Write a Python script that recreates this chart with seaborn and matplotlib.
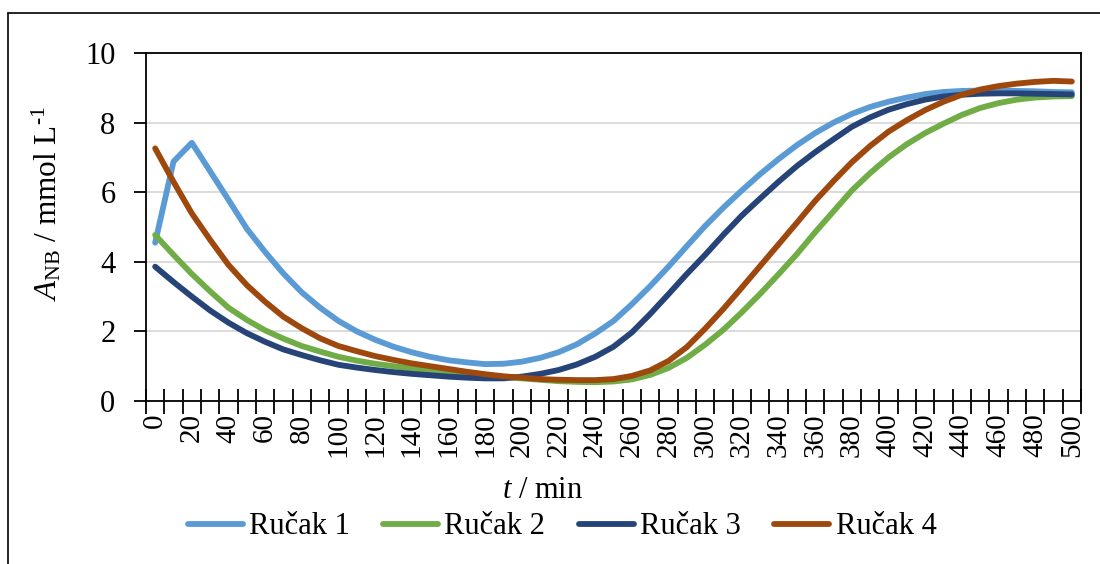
import numpy as np
import pandas as pd
import matplotlib
matplotlib.use('Agg')
import matplotlib.pyplot as plt
from matplotlib.lines import Line2D
from matplotlib.ticker import FixedLocator
import seaborn as sns

# vrijeme uzorkovanja (min)
time_min = list(range(0, 501, 10))

# A_NB / mmol L-1 za svaki ručak
rucak_1 = [4.55, 6.88, 7.42, 6.60, 5.78, 4.95, 4.28, 3.66, 3.12, 2.68,
           2.30, 2.00, 1.76, 1.56, 1.40, 1.27, 1.17, 1.11, 1.06, 1.07,
           1.13, 1.24, 1.40, 1.63, 1.94, 2.30, 2.78, 3.30, 3.86, 4.45,
           5.03, 5.56, 6.05, 6.52, 6.95, 7.35, 7.70, 8.00, 8.25, 8.45,
           8.60, 8.72, 8.82, 8.88, 8.91, 8.92, 8.92, 8.91, 8.90, 8.88,
           8.87]
rucak_2 = [4.77, 4.20, 3.65, 3.15, 2.68, 2.33, 2.03, 1.79, 1.58, 1.42,
           1.27, 1.16, 1.07, 1.00, 0.93, 0.88, 0.83, 0.79, 0.74, 0.69,
           0.65, 0.61, 0.57, 0.55, 0.54, 0.56, 0.62, 0.75, 0.95, 1.24,
           1.62, 2.05, 2.55, 3.08, 3.64, 4.22, 4.85, 5.45, 6.05, 6.55,
           7.00, 7.38, 7.70, 7.97, 8.22, 8.42, 8.56, 8.66, 8.72, 8.75,
           8.76]
rucak_3 = [3.86, 3.42, 3.00, 2.60, 2.25, 1.95, 1.70, 1.48, 1.32, 1.17,
           1.04, 0.96, 0.89, 0.83, 0.78, 0.74, 0.70, 0.67, 0.65, 0.65,
           0.70, 0.78, 0.89, 1.05, 1.27, 1.56, 1.97, 2.50, 3.07, 3.65,
           4.20, 4.78, 5.33, 5.82, 6.30, 6.75, 7.15, 7.52, 7.88, 8.15,
           8.37, 8.53, 8.66, 8.75, 8.80, 8.83, 8.84, 8.84, 8.83, 8.82,
           8.81]
rucak_4 = [7.26, 6.30, 5.39, 4.63, 3.91, 3.33, 2.85, 2.42, 2.09, 1.80,
           1.58, 1.43, 1.29, 1.18, 1.08, 1.00, 0.92, 0.84, 0.77, 0.71,
           0.67, 0.63, 0.61, 0.60, 0.60, 0.63, 0.72, 0.88, 1.15, 1.55,
           2.08, 2.65, 3.26, 3.88, 4.50, 5.12, 5.75, 6.32, 6.86, 7.33,
           7.74, 8.07, 8.36, 8.60, 8.80, 8.95, 9.05, 9.12, 9.17, 9.20,
           9.18]

series_names = ['Ručak 1', 'Ručak 2', 'Ručak 3', 'Ručak 4']
series_colors = ['#5B9BD5', '#70AD47', '#264478', '#9E480E']
y_ticks = [0, 2, 4, 6, 8, 10]
x_ticks = list(range(0, 501, 20))

sns.set_style('white')
plt.rcParams['font.family'] = ['Liberation Serif', 'DejaVu Serif']
plt.rcParams['mathtext.fontset'] = 'custom'
plt.rcParams['mathtext.rm'] = 'Liberation Serif'
plt.rcParams['mathtext.it'] = 'Liberation Serif:italic'
plt.rcParams['text.color'] = 'black'
plt.rcParams['axes.labelcolor'] = 'black'
plt.rcParams['xtick.color'] = 'black'
plt.rcParams['ytick.color'] = 'black'

df = pd.DataFrame({
    't': time_min * 4,
    'A': rucak_1 + rucak_2 + rucak_3 + rucak_4,
    'serija': np.repeat(series_names, len(time_min)),
})

W, H = 1100, 564
fig = plt.figure(figsize=(W / 100, H / 100), dpi=100)
ax = fig.add_axes([146 / W, 1 - 401 / H, (1081 - 146) / W, (401 - 53) / H])

sns.lineplot(data=df, x='t', y='A', hue='serija', palette=series_colors,
             linewidth=4.2, solid_capstyle='round', ax=ax)

ax.set_xlim(-5, 505)
ax.set_ylim(0, 10)

# x os: kategorije po 10 min, oznake svakih 20 min
ax.set_xticks(x_ticks)
ax.set_xticklabels([str(v) for v in x_ticks], rotation=90)
ax.xaxis.set_minor_locator(FixedLocator(np.arange(-5, 506, 10)))
ax.tick_params(axis='x', which='major', length=0, pad=9, labelsize=21)
ax.tick_params(axis='x', which='minor', direction='inout', length=18,
               width=1.3, bottom=True)
ax.set_yticks(y_ticks)
ax.tick_params(axis='y', which='major', direction='out', length=9,
               width=1.3, pad=13, labelsize=22, left=True)

ax.yaxis.grid(True, color='#D9D9D9', linewidth=1.3)
ax.xaxis.grid(False)
ax.set_axisbelow(True)
for sp in ax.spines.values():
    sp.set_color('black')
    sp.set_linewidth(1.3)

ax.set_ylabel(r'$\mathit{A}_{\mathrm{NB}}$ / mmol L$^{\text{-}1}$', fontsize=22.5)
ax.yaxis.label.set_va('center')
ax.yaxis.set_label_coords((47 - 146) / 935, (401 - 203) / 348)
ax.set_xlabel(r'$\mathit{t}$ / min', fontsize=22)
ax.xaxis.label.set_va('center')
ax.xaxis.set_label_coords((543 - 146) / 935, (401 - 491) / 348)

handles, labels = ax.get_legend_handles_labels()
ax.get_legend().remove()
leg = fig.legend(handles, labels, loc='center', ncol=4, frameon=False,
                 bbox_to_anchor=(562 / W, 1 - 527 / H), fontsize=22,
                 handlelength=1.8, handletextpad=0.2, columnspacing=1.1)
for ln in leg.get_lines():
    ln.set_linewidth(4.2)
    ln.set_solid_capstyle('round')

# okvir grafikona (lijevo i gore)
fig.add_artist(Line2D([8 / W, 8 / W], [0, 1 - 13 / H], transform=fig.transFigure,
                      color='black', linewidth=1.2))
fig.add_artist(Line2D([8 / W, 1], [1 - 13 / H, 1 - 13 / H], transform=fig.transFigure,
                      color='black', linewidth=1.2))

fig.savefig('out.png', dpi=100)
